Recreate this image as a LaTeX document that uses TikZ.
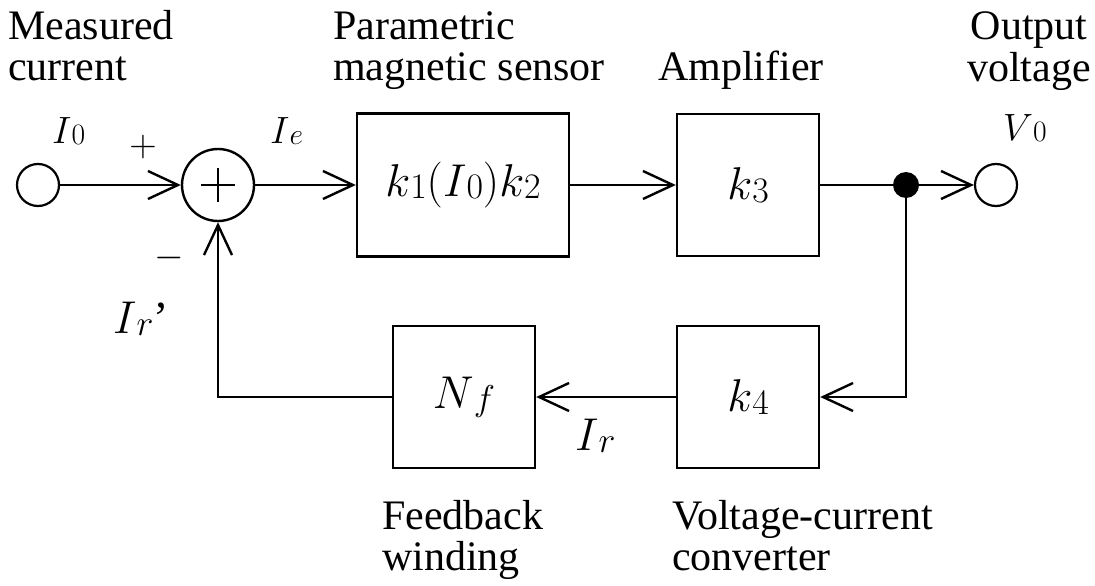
\RequirePackage{fix-cm}
\documentclass[tikz,border=0pt]{standalone}
\usepackage{fontspec}
\setmainfont{Liberation Serif}
\usepackage{graphicx}
\usetikzlibrary{arrows.meta, positioning}
\newcommand{\lowsub}[2]{#1\raisebox{-0.1ex}{\scalebox{0.78}{$#2$}}}
\newcommand{\twoline}[3]{\begin{tabular}[t]{@{}#1@{}}#2\\#3\end{tabular}}

\begin{document}
\begin{tikzpicture}[
        x=1pt, y=-1pt,
        block/.style={rectangle, draw, line width=2.4pt, minimum width=142pt, minimum height=142pt, inner sep=0pt, font=\fontsize{46}{46}\selectfont},
        port/.style={circle, draw, line width=2.2pt, minimum size=42pt, inner sep=0pt},
        caption/.style={inner sep=0pt, font=\fontsize{42}{41}\selectfont},
        sig/.style={inner sep=0pt, font=\fontsize{38}{38}\selectfont},
        fbsig/.style={inner sep=0pt, font=\fontsize{46}{46}\selectfont},
        arrow/.style={-{Straight Barb[length=30pt, width=28pt]}, line width=2.4pt}
    ]
        \useasboundingbox (0,0) rectangle (1095,586);

        % forward path
        \node[port] (src) at (38,185) {};
        \node[circle, draw, line width=2.4pt, minimum size=72pt, inner sep=0pt] (sum) at (218,185) {};
        \draw[line width=1.6pt] (sum.center) ++(-17,0) -- ++(34,0);
        \draw[line width=1.6pt] (sum.center) ++(0,-17) -- ++(0,34);
        \node[block, minimum width=212pt, minimum height=143pt] (sensor) at (463,185) {$\lowsub{k}{1}(\lowsub{I}{0})\lowsub{k}{2}$};
        \node[block] (amp) at (748,185) {$\lowsub{k}{3}$};
        \node[circle, fill=black, minimum size=26pt, inner sep=0pt] (tap) at (906,185) {};
        \node[port] (sink) at (996,185) {};

        % feedback path
        \node[block] (conv) at (748,397) {$\lowsub{k}{4}$};
        \node[block] (wind) at (464,397) {$\lowsub{N}{f}$};

        \draw[arrow] (src) -- (sum);
        \draw[arrow] (sum) -- (sensor);
        \draw[arrow] (sensor) -- (amp);
        \draw[line width=2.4pt] (amp) -- (tap);
        \draw[arrow] (tap) -- (sink);
        \draw[arrow] (tap) |- (conv);
        \draw[arrow] (conv) -- (wind);
        \draw[arrow] (wind) -| (sum);

        % signal labels
        \node[sig, anchor=base west] (i0) at (52,143) {$\lowsub{I}{0}$};
        \node[sig] (plus) at (143,147) {$+$};
        \node[sig] (minus) at (169,258) {$-$};
        \node[sig, anchor=base west] (ie) at (270,143) {$\lowsub{I}{e}$};
        \node[sig, anchor=base west] (v0) at (1003,140) {$\lowsub{V}{0}$};
        \node[fbsig, anchor=base west] (irp) at (113,333) {$\lowsub{I}{r}$’};
        \node[fbsig, anchor=base west] (ir) at (575,450) {$\lowsub{I}{r}$};

        % captions
        \node[caption, anchor=base west] (meas) at (8,40) {\twoline{l}{Measured}{current}};
        \node[caption, anchor=base west] (param) at (333,40) {\twoline{l}{Parametric}{magnetic sensor}};
        \node[caption, anchor=base west] (ampl) at (658,81) {Amplifier};
        \node[caption, anchor=base] (outv) at (1029,40) {\twoline{c}{Output}{voltage}};
        \node[caption, anchor=base west] (fbw) at (382,529) {\twoline{l}{Feedback}{winding}};
        \node[caption, anchor=base west] (vcc) at (672,529) {\twoline{l}{Voltage-current}{converter}};
    \end{tikzpicture}
\end{document}
